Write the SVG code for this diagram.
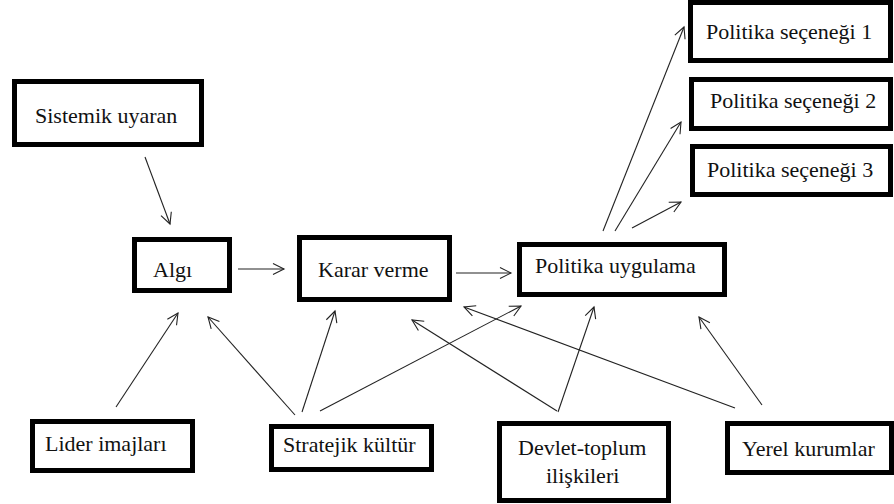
<svg xmlns="http://www.w3.org/2000/svg" width="894" height="504" viewBox="0 0 894 504" font-family="Liberation Serif, serif" font-size="22">
<style>
text{font-family:'Liberation Serif',serif;font-size:22px;fill:#111}
.box{fill:#fff;stroke:#000;stroke-width:5}
.c{stroke:#222;stroke-width:1.1;fill:none;marker-end:url(#ah)}
</style>
<defs>
<marker id="ah" markerUnits="userSpaceOnUse" markerWidth="14" markerHeight="14" refX="12" refY="6" orient="auto" viewBox="0 0 14 12">
<path d="M1,0.5 L12,6 L1,11.5" fill="none" stroke="#222" stroke-width="1.1"/>
</marker>
</defs>
<rect width="894" height="504" fill="#fff"/>
<g id="connectors">
<line class="c" x1="145" y1="157" x2="170" y2="224"/>
<line class="c" x1="238" y1="269" x2="284" y2="269"/>
<line class="c" x1="456" y1="273" x2="511" y2="273"/>
<line class="c" x1="603" y1="231" x2="684" y2="27"/>
<line class="c" x1="615" y1="231" x2="681" y2="122"/>
<line class="c" x1="632" y1="228" x2="681" y2="202"/>
<line class="c" x1="116" y1="407" x2="178" y2="313"/>
<line class="c" x1="295" y1="415" x2="208" y2="317"/>
<line class="c" x1="302" y1="412" x2="335" y2="311"/>
<line class="c" x1="320" y1="411" x2="521" y2="306"/>
<line class="c" x1="557" y1="411" x2="412" y2="320"/>
<line class="c" x1="558" y1="412" x2="594" y2="307"/>
<line class="c" x1="735" y1="408" x2="464" y2="307"/>
<line class="c" x1="762" y1="405" x2="699" y2="317"/>
</g>
<g id="sistemik"><rect class="box" x="14.5" y="81.5" width="187" height="63"/><text x="35" y="123">Sistemik uyaran</text></g>
<g id="algi"><rect class="box" x="134.5" y="239.5" width="95" height="51"/><text x="153" y="277">Algı</text></g>
<g id="karar"><rect class="box" x="299.5" y="237.5" width="150" height="62"/><text x="318" y="277">Karar verme</text></g>
<g id="politika"><rect class="box" x="519.5" y="244.5" width="205" height="50"/><text x="535" y="273">Politika uygulama</text></g>
<g id="ps1"><rect class="box" x="690.5" y="2.5" width="200" height="58"/><text x="706" y="39">Politika seçeneği 1</text></g>
<g id="ps2"><rect class="box" x="691.5" y="79.5" width="199" height="49"/><text x="710" y="108">Politika seçeneği 2</text></g>
<g id="ps3"><rect class="box" x="692.5" y="146.5" width="198" height="48"/><text x="707" y="177">Politika seçeneği 3</text></g>
<g id="lider"><rect class="box" x="32.5" y="421.5" width="160" height="49"/><text x="45" y="451">Lider imajları</text></g>
<g id="stratejik"><rect class="box" x="271.5" y="426.5" width="160" height="43"/><text x="283" y="452">Stratejik kültür</text></g>
<g id="devlet"><rect class="box" x="499.5" y="423.5" width="169" height="77"/><text x="518" y="455">Devlet-toplum</text><text x="546" y="483">ilişkileri</text></g>
<g id="yerel"><rect class="box" x="727.5" y="423.5" width="164" height="49"/><text x="742" y="456">Yerel kurumlar</text></g>
</svg>
